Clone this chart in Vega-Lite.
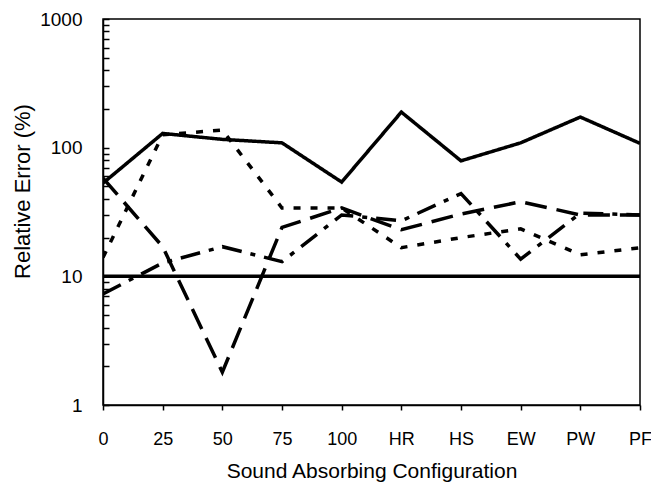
{
  "$schema": "https://vega.github.io/schema/vega-lite/v6.json",
  "width": 537,
  "height": 386,
  "autosize": "none",
  "padding": {"left": 103, "top": 19, "right": 11, "bottom": 78},
  "background": "white",
  "config": {
    "font": "Liberation Sans",
    "view": {"stroke": "black", "strokeWidth": 1.5},
    "axis": {
      "domainColor": "black",
      "domainWidth": 1.5,
      "tickColor": "black",
      "tickWidth": 1.5,
      "labelColor": "black",
      "labelFontSize": 19,
      "titleColor": "black",
      "titleFontWeight": "normal",
      "grid": false
    }
  },
  "datasets": {
    "errors": [
      {"config": "0", "series": "Series 1", "value": 53},
      {"config": "25", "series": "Series 1", "value": 129},
      {"config": "50", "series": "Series 1", "value": 116},
      {"config": "75", "series": "Series 1", "value": 109},
      {"config": "100", "series": "Series 1", "value": 54},
      {"config": "HR", "series": "Series 1", "value": 189},
      {"config": "HS", "series": "Series 1", "value": 79},
      {"config": "EW", "series": "Series 1", "value": 109},
      {"config": "PW", "series": "Series 1", "value": 173},
      {"config": "PF", "series": "Series 1", "value": 108},

      {"config": "0", "series": "Series 2", "value": 58},
      {"config": "25", "series": "Series 2", "value": 17},
      {"config": "50", "series": "Series 2", "value": 1.8},
      {"config": "75", "series": "Series 2", "value": 24},
      {"config": "100", "series": "Series 2", "value": 34},
      {"config": "HR", "series": "Series 2", "value": 23},
      {"config": "HS", "series": "Series 2", "value": 30.5},
      {"config": "EW", "series": "Series 2", "value": 38},
      {"config": "PW", "series": "Series 2", "value": 30},
      {"config": "PF", "series": "Series 2", "value": 30},

      {"config": "0", "series": "Series 3", "value": 7.3},
      {"config": "25", "series": "Series 3", "value": 12.7},
      {"config": "50", "series": "Series 3", "value": 17},
      {"config": "75", "series": "Series 3", "value": 13},
      {"config": "100", "series": "Series 3", "value": 30},
      {"config": "HR", "series": "Series 3", "value": 27},
      {"config": "HS", "series": "Series 3", "value": 44},
      {"config": "EW", "series": "Series 3", "value": 13.6},
      {"config": "PW", "series": "Series 3", "value": 31},
      {"config": "PF", "series": "Series 3", "value": 30},

      {"config": "0", "series": "Series 4", "value": 14},
      {"config": "25", "series": "Series 4", "value": 126},
      {"config": "50", "series": "Series 4", "value": 137},
      {"config": "75", "series": "Series 4", "value": 34},
      {"config": "100", "series": "Series 4", "value": 34},
      {"config": "HR", "series": "Series 4", "value": 16.7},
      {"config": "HS", "series": "Series 4", "value": 20},
      {"config": "EW", "series": "Series 4", "value": 23.4},
      {"config": "PW", "series": "Series 4", "value": 14.7},
      {"config": "PF", "series": "Series 4", "value": 16.7}
    ],
    "reference": [{"level": 10}]
  },
  "layer": [
    {
      "data": {"name": "reference"},
      "mark": {"type": "rule", "color": "black", "strokeWidth": 3.5},
      "encoding": {
        "y": {"field": "level", "type": "quantitative"}
      }
    },
    {
      "data": {"name": "errors"},
      "mark": {"type": "line", "color": "black", "strokeWidth": 3.5, "clip": true},
      "encoding": {
        "x": {
          "field": "config",
          "type": "ordinal",
          "sort": ["0", "25", "50", "75", "100", "HR", "HS", "EW", "PW", "PF"],
          "scale": {"type": "point", "padding": 0},
          "axis": {
            "title": "Sound Absorbing Configuration",
            "titleFontSize": 21,
            "labelFontSize": 18,
            "labelAngle": 0,
            "tickSize": 5,
            "labelPadding": 20,
            "titlePadding": 12
          }
        },
        "y": {
          "field": "value",
          "type": "quantitative",
          "scale": {"type": "log", "domain": [1, 1000], "nice": false},
          "axis": {
            "title": "Relative Error (%)",
            "titleFontSize": 22,
            "titleY": 172,
            "values": [1, 2, 3, 4, 5, 6, 7, 8, 9, 10, 20, 30, 40, 50, 60, 70, 80, 90, 100, 200, 300, 400, 500, 600, 700, 800, 900, 1000],
            "format": "d",
            "labelExpr": "indexof([1, 10, 100, 1000], datum.value) >= 0 ? datum.label : ''",
            "tickSize": -6,
            "labelPadding": 27,
            "titlePadding": 5
          }
        },
        "detail": {"field": "series"},
        "strokeDash": {
          "field": "series",
          "type": "nominal",
          "scale": {
            "domain": ["Series 1", "Series 2", "Series 3", "Series 4"],
            "range": [[1, 0], [22, 10], [20, 9, 5, 9], [7, 10]]
          },
          "legend": null
        }
      }
    }
  ]
}
